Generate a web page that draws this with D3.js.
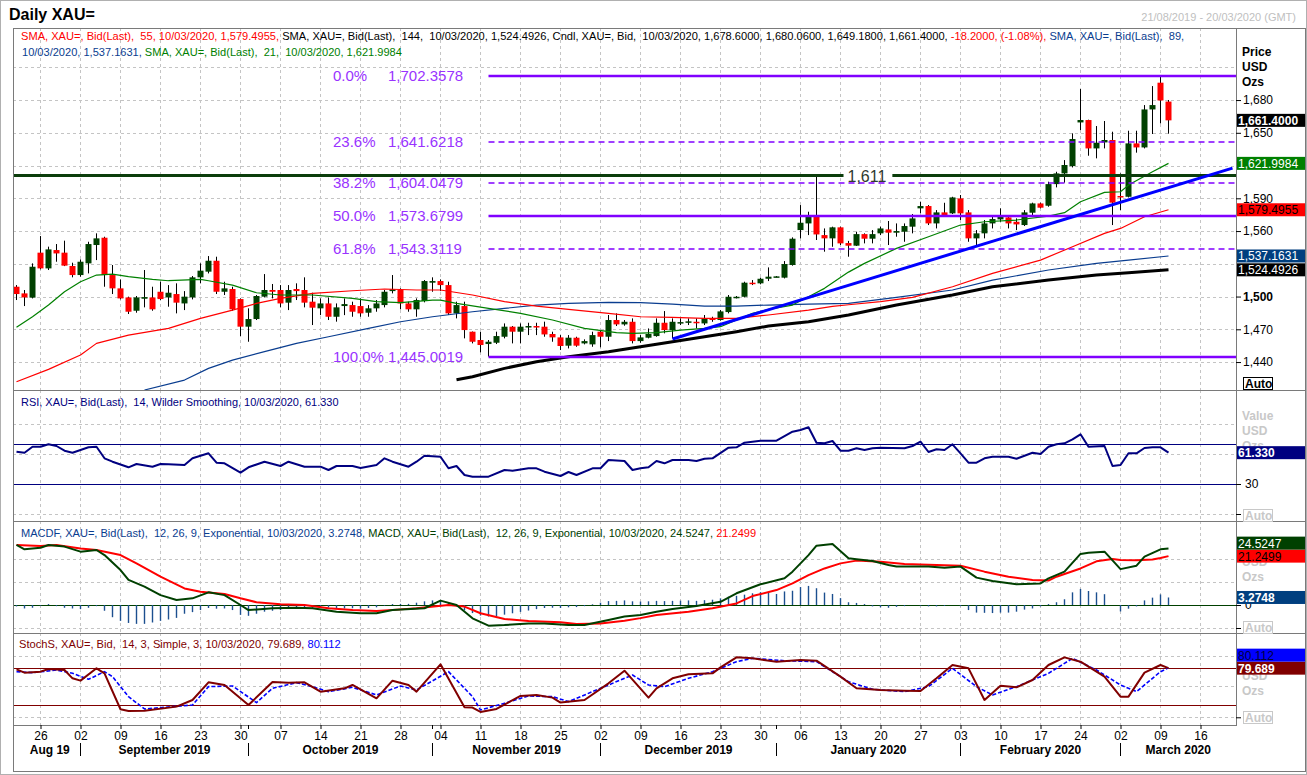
<!DOCTYPE html>
<html>
<head>
<meta charset="utf-8">
<script src="https://d3js.org/d3.v7.min.js"></script>
<style>
  body { margin: 0; background: #fff; }
  svg { display: block; font-family: "Liberation Sans", Arial, sans-serif; }
  text { white-space: pre; }
</style>
</head>
<body>
<svg id="chart" width="1307" height="775"></svg>
<script>
// ---- categories ----
const firstDay = "2019-08-21"
const lastDay = "2020-03-20"
const monthNames = ["Aug 19", "September 2019", "October 2019", "November 2019", "December 2019", "January 2020", "February 2020", "March 2020"]

// ---- daily candles, 21/08/2019 .. 10/03/2020 ----
const opens = [1509.0,1502.9,1499.0,1540.2,1525.8,1542.6,1540.2,1528.0,1519.7,1530.4,1547.2,1553.9,1519.7,1507.5,1499.2,1487.0,1498.0,1499.2,1504.4,1499.2,1502.3,1493.7,1499.2,1517.6,1522.8,1532.8,1504.4,1506.9,1497.7,1472.4,1479.4,1499.9,1506.0,1506.0,1494.4,1506.9,1506.0,1495.3,1489.2,1493.7,1481.5,1491.3,1492.2,1491.3,1485.2,1489.2,1492.2,1505.0,1506.0,1493.7,1488.3,1495.9,1512.7,1514.2,1510.5,1484.6,1491.3,1467.8,1460.2,1456.5,1457.7,1463.2,1472.4,1467.8,1471.8,1473.0,1472.4,1465.7,1462.6,1455.0,1462.3,1457.1,1456.2,1467.8,1463.2,1478.5,1474.5,1476.9,1459.2,1462.3,1463.8,1476.0,1469.3,1475.7,1476.3,1476.9,1475.4,1480.0,1478.5,1485.8,1499.2,1499.8,1512.7,1512.1,1516.3,1517.9,1517.3,1528.9,1560.9,1567.0,1574.0,1556.3,1553.3,1563.4,1549.0,1546.6,1557.2,1553.0,1557.9,1561.5,1558.5,1559.4,1564.0,1580.8,1582.9,1567.0,1577.1,1576.2,1589.9,1577.1,1553.3,1557.9,1567.0,1570.7,1572.5,1568.5,1565.5,1576.8,1585.3,1583.2,1603.0,1612.8,1619.5,1659.5,1661.7,1635.7,1641.2,1643.4,1592.1,1591.4,1640.3,1636.6,1671.4,1695.9,1678.6]
const highs = [1510.5,1506.0,1530.4,1555.4,1545.7,1548.1,1551.2,1531.0,1534.0,1550.2,1557.9,1554.8,1528.9,1515.7,1499.9,1500.5,1524.3,1509.0,1513.6,1510.5,1512.1,1505.0,1518.8,1530.4,1537.1,1536.5,1513.6,1509.0,1498.3,1489.2,1501.4,1520.6,1511.5,1510.5,1510.5,1512.1,1517.6,1503.5,1498.3,1499.2,1493.7,1498.3,1495.3,1498.3,1492.2,1496.8,1506.0,1519.7,1507.5,1495.3,1498.3,1515.1,1517.6,1515.7,1513.6,1495.3,1495.3,1468.0,1467.8,1460.2,1467.8,1475.4,1473.0,1475.4,1476.0,1476.0,1477.0,1467.8,1464.7,1464.7,1463.2,1460.8,1467.8,1469.3,1483.1,1484.6,1478.5,1480.0,1464.7,1470.8,1480.0,1486.7,1480.0,1480.0,1480.0,1480.0,1483.1,1481.5,1487.6,1501.4,1500.5,1513.6,1515.1,1517.3,1526.7,1518.8,1532.5,1554.2,1583.8,1577.7,1611.2,1562.4,1564.0,1564.0,1551.0,1559.4,1557.9,1560.9,1564.0,1569.2,1567.0,1567.0,1575.6,1586.9,1583.8,1579.2,1585.9,1591.4,1593.0,1579.2,1560.9,1570.1,1574.6,1580.8,1573.1,1571.6,1579.2,1586.0,1586.0,1605.2,1614.3,1625.0,1649.5,1690.1,1662.0,1656.2,1660.8,1651.0,1612.8,1651.9,1651.9,1675.4,1692.8,1702.36,1680.06]
const lows = [1496.8,1491.3,1498.3,1524.9,1524.3,1531.9,1527.9,1517.6,1518.2,1521.2,1533.4,1509.0,1502.3,1497.4,1484.0,1485.2,1490.1,1487.0,1496.8,1490.7,1484.6,1487.6,1497.4,1512.1,1521.2,1502.3,1501.4,1487.0,1463.8,1458.6,1478.5,1499.2,1498.3,1490.1,1487.6,1496.8,1490.1,1473.9,1483.0,1478.5,1477.0,1483.0,1481.5,1481.5,1481.5,1486.1,1490.1,1502.9,1488.3,1486.1,1481.5,1494.7,1504.4,1505.0,1483.1,1480.0,1461.7,1457.1,1448.9,1445.0,1456.5,1461.7,1457.1,1457.1,1464.7,1464.7,1463.2,1458.6,1451.0,1452.5,1454.0,1456.2,1454.0,1453.5,1459.2,1473.0,1473.3,1457.1,1457.7,1461.7,1463.2,1466.3,1461.7,1473.9,1473.9,1470.8,1473.9,1476.9,1477.9,1484.6,1498.3,1499.2,1510.5,1511.2,1514.2,1517.6,1516.6,1528.3,1553.3,1556.3,1551.8,1541.1,1545.6,1547.2,1536.5,1546.3,1548.7,1548.7,1556.3,1547.2,1554.8,1550.2,1557.9,1576.2,1565.5,1562.4,1573.1,1575.6,1570.1,1550.2,1547.2,1553.3,1562.4,1568.5,1562.4,1560.9,1564.6,1573.1,1580.8,1582.3,1600.0,1604.3,1618.3,1652.5,1629.0,1626.6,1635.7,1565.5,1579.2,1590.8,1631.8,1635.7,1648.9,1658.6,1649.18]
const closes = [1502.3,1499.2,1527.3,1525.8,1543.2,1539.5,1528.3,1519.7,1531.9,1548.1,1553.3,1519.7,1507.5,1498.3,1486.1,1499.2,1499.5,1488.3,1497.7,1503.5,1494.4,1499.9,1517.6,1523.7,1532.8,1504.4,1507.5,1488.3,1472.4,1479.4,1500.5,1506.0,1504.4,1493.7,1506.0,1505.0,1494.4,1489.8,1493.7,1481.5,1490.1,1493.1,1486.1,1484.6,1489.2,1493.7,1504.4,1506.6,1493.7,1488.3,1496.8,1514.2,1514.2,1510.5,1484.6,1492.2,1469.3,1458.6,1455.6,1458.6,1463.8,1472.4,1467.8,1472.4,1473.0,1471.8,1465.3,1462.6,1454.7,1462.3,1455.0,1459.2,1464.7,1463.2,1478.5,1474.5,1476.9,1459.2,1462.6,1465.7,1476.0,1469.3,1476.9,1476.6,1477.3,1476.0,1480.0,1478.5,1486.4,1499.8,1499.8,1512.7,1511.5,1516.3,1518.2,1518.5,1529.8,1553.0,1567.6,1574.0,1556.9,1553.3,1563.4,1548.7,1546.6,1557.2,1553.0,1557.2,1562.4,1558.5,1560.0,1564.6,1571.6,1582.9,1567.0,1577.1,1574.6,1590.8,1576.2,1553.3,1557.9,1567.0,1571.0,1573.1,1567.0,1566.1,1577.1,1585.3,1581.4,1603.0,1612.8,1620.5,1644.3,1661.7,1635.7,1640.9,1643.4,1586.0,1590.8,1640.3,1636.6,1671.4,1675.4,1679.6,1661.4]

// ---- moving averages ----
const sma21 = [["2019-08-21",1471.8],["2019-08-23",1481.5],["2019-08-27",1492.2],["2019-08-29",1504.4],["2019-09-02",1513.6],["2019-09-04",1519.7],["2019-09-06",1520.6],["2019-09-10",1518.2],["2019-09-13",1515.7],["2019-09-17",1514.5],["2019-09-23",1515.7],["2019-09-24",1514.5],["2019-09-27",1510.5],["2019-10-02",1503.5],["2019-10-07",1501.4],["2019-10-11",1501.4],["2019-10-18",1498.3],["2019-10-23",1495.3],["2019-10-28",1494.4],["2019-11-01",1496.8],["2019-11-04",1496.8],["2019-11-06",1493.7],["2019-11-12",1489.2],["2019-11-18",1484.6],["2019-11-22",1478.5],["2019-11-28",1470.8],["2019-12-04",1466.9],["2019-12-06",1466.3],["2019-12-11",1466.9],["2019-12-16",1469.3],["2019-12-19",1470.8],["2019-12-23",1472.4],["2019-12-25",1478.5],["2019-12-27",1484.6],["2019-12-31",1488.2],["2020-01-03",1492.2],["2020-01-07",1499.8],["2020-01-09",1507.5],["2020-01-14",1522.4],["2020-01-16",1530.4],["2020-01-22",1544.1],["2020-01-28",1554.8],["2020-02-03",1565.5],["2020-02-06",1568.5],["2020-02-12",1570.1],["2020-02-18",1573.7],["2020-02-20",1576.8],["2020-02-24",1586.9],["2020-02-27",1595.4],["2020-03-02",1596.0],["2020-03-03",1602.1],["2020-03-06",1614.4],["2020-03-10",1621.9984]]
const sma55 = [["2019-08-21",1422.0],["2019-08-27",1433.3],["2019-09-02",1446.4],["2019-09-04",1457.1],["2019-09-10",1464.7],["2019-09-17",1470.9],["2019-09-23",1480.0],["2019-09-27",1487.6],["2019-10-02",1493.7],["2019-10-07",1498.3],["2019-10-11",1502.9],["2019-10-18",1505.3],["2019-10-24",1506.9],["2019-10-30",1506.0],["2019-11-04",1506.0],["2019-11-08",1501.4],["2019-11-14",1495.3],["2019-11-20",1491.3],["2019-11-26",1488.2],["2019-12-03",1484.6],["2019-12-09",1481.5],["2019-12-13",1480.9],["2019-12-19",1480.0],["2019-12-25",1480.0],["2019-12-31",1483.1],["2020-01-07",1487.6],["2020-01-10",1491.0],["2020-01-14",1492.5],["2020-01-20",1495.3],["2020-01-24",1499.2],["2020-01-31",1509.0],["2020-02-07",1521.2],["2020-02-17",1533.4],["2020-02-21",1545.6],["2020-02-27",1557.9],["2020-03-02",1562.4],["2020-03-05",1573.1],["2020-03-10",1579.4955]]
const sma89 = [["2019-09-12",1414.4],["2019-09-19",1423.5],["2019-09-24",1434.2],["2019-09-27",1441.8],["2019-10-03",1449.5],["2019-10-09",1457.1],["2019-10-15",1463.2],["2019-10-22",1470.8],["2019-10-28",1476.9],["2019-11-01",1481.5],["2019-11-08",1486.1],["2019-11-14",1489.2],["2019-11-20",1492.2],["2019-11-26",1493.7],["2019-12-03",1494.7],["2019-12-09",1494.4],["2019-12-13",1493.1],["2019-12-19",1491.3],["2019-12-25",1491.3],["2019-12-31",1492.2],["2020-01-07",1493.1],["2020-01-14",1493.7],["2020-01-22",1499.2],["2020-01-31",1506.0],["2020-02-07",1515.1],["2020-02-18",1524.3],["2020-02-26",1530.4],["2020-03-03",1533.4],["2020-03-10",1537.1631]]
const sma144 = [["2019-11-06",1423.8],["2019-11-08",1426.6],["2019-11-14",1434.2],["2019-11-20",1440.3],["2019-11-26",1444.9],["2019-12-03",1449.5],["2019-12-09",1454.1],["2019-12-13",1458.6],["2019-12-19",1463.2],["2019-12-25",1467.8],["2019-12-31",1473.0],["2020-01-07",1476.9],["2020-01-14",1483.1],["2020-01-22",1492.2],["2020-01-31",1501.4],["2020-02-07",1509.0],["2020-02-18",1515.1],["2020-02-26",1519.7],["2020-03-03",1521.8],["2020-03-10",1524.4926]]

// ---- drawn studies ----
const fibPct = ["0.0%", "23.6%", "38.2%", "50.0%", "61.8%", "100.0%"]
const fibValues = [1702.3578, 1641.6218, 1604.0479, 1573.6799, 1543.3119, 1445.0019]
const fibStart = "2019-11-12"
const resistance = 1611
const resistanceLabelDay = "2020-01-14"
const trendPoints = [["2019-12-13", 1461.1], ["2020-03-20", 1617.7]]

// ---- RSI 14 ----
const rsi = [["2019-08-21",62.3],["2019-08-22",61.3],["2019-08-23",67.3],["2019-08-26",67.3],["2019-08-27",69.7],["2019-08-28",68],["2019-08-29",63.3],["2019-08-30",61.3],["2019-09-02",64],["2019-09-03",66.7],["2019-09-04",67.3],["2019-09-05",55.7],["2019-09-06",52.3],["2019-09-10",46.7],["2019-09-11",50],["2019-09-13",47.3],["2019-09-16",50],["2019-09-17",49.7],["2019-09-19",49],["2019-09-20",55.7],["2019-09-24",60.7],["2019-09-25",51.3],["2019-09-26",50.7],["2019-09-30",41.3],["2019-10-01",46.7],["2019-10-03",52.3],["2019-10-07",48],["2019-10-08",52.3],["2019-10-10",47.3],["2019-10-14",47.3],["2019-10-15",44],["2019-10-16",48],["2019-10-18",48],["2019-10-21",46],["2019-10-23",49],["2019-10-24",55.7],["2019-10-25",52.3],["2019-10-29",47.3],["2019-10-30",52.3],["2019-10-31",58.3],["2019-11-04",57.3],["2019-11-05",45.7],["2019-11-06",48],["2019-11-07",39],["2019-11-08",37.3],["2019-11-12",37.3],["2019-11-14",44],["2019-11-15",43.3],["2019-11-19",45.7],["2019-11-20",45.7],["2019-11-21",42.3],["2019-11-25",38],["2019-11-26",42],["2019-11-27",39],["2019-11-29",45.7],["2019-12-02",45.7],["2019-12-03",54],["2019-12-05",53],["2019-12-06",44],["2019-12-09",45.7],["2019-12-10",46.7],["2019-12-11",53],["2019-12-12",50.7],["2019-12-13",54],["2019-12-17",54],["2019-12-18",53],["2019-12-19",55.3],["2019-12-20",55.7],["2019-12-24",66.3],["2019-12-25",66.7],["2019-12-26",71.3],["2019-12-27",72.3],["2019-12-30",73.3],["2020-01-01",73.3],["2020-01-03",82.3],["2020-01-06",84],["2020-01-07",86.7],["2020-01-08",71.3],["2020-01-09",70.7],["2020-01-10",73],["2020-01-13",63.3],["2020-01-14",63.3],["2020-01-15",65.7],["2020-01-16",64],["2020-01-17",65.7],["2020-01-20",66.3],["2020-01-23",65.7],["2020-01-24",68],["2020-01-27",72.3],["2020-01-28",62],["2020-01-29",64.7],["2020-01-30",64],["2020-01-31",69.7],["2020-02-03",60.7],["2020-02-04",51.3],["2020-02-05",51.3],["2020-02-06",55.7],["2020-02-07",57.3],["2020-02-11",57.3],["2020-02-12",55.3],["2020-02-14",61.3],["2020-02-17",60],["2020-02-18",67.3],["2020-02-19",69.7],["2020-02-20",70.7],["2020-02-21",74.7],["2020-02-24",79.7],["2020-02-25",67.3],["2020-02-27",68],["2020-02-28",48],["2020-03-02",49],["2020-03-03",60.7],["2020-03-04",60.7],["2020-03-05",66],["2020-03-06",66.7],["2020-03-09",66.7],["2020-03-10",61.33]]
const rsiLevels = [70, 30]

// ---- MACD 12, 26, 9 ----
const macdLine = [["2019-08-21",26.1],["2019-08-22",24.2],["2019-08-26",24.9],["2019-08-27",26.1],["2019-08-29",25.4],["2019-09-02",23.2],["2019-09-04",23.9],["2019-09-05",21.7],["2019-09-09",15.2],["2019-09-10",10.9],["2019-09-12",8],["2019-09-16",4.3],["2019-09-18",2.2],["2019-09-20",2.9],["2019-09-24",5.5],["2019-09-26",4.3],["2019-09-30",0],["2019-10-01",-2.2],["2019-10-04",-1.4],["2019-10-09",-1.2],["2019-10-11",-1.4],["2019-10-16",-2.9],["2019-10-21",-3.6],["2019-10-23",-3.6],["2019-10-25",-2.2],["2019-10-31",-1.4],["2019-11-04",1.9],["2019-11-06",0],["2019-11-08",-5.8],["2019-11-12",-9],["2019-11-14",-8.7],["2019-11-19",-8],["2019-11-21",-8],["2019-11-26",-8.7],["2019-11-28",-8.7],["2019-12-03",-6.5],["2019-12-05",-5],["2019-12-09",-4.3],["2019-12-11",-2.9],["2019-12-13",-1.7],["2019-12-18",-0.4],["2019-12-23",1.4],["2019-12-25",5.1],["2019-12-30",9],["2020-01-02",11.6],["2020-01-03",14.5],["2020-01-07",21.7],["2020-01-08",25.8],["2020-01-10",26.5],["2020-01-14",20.3],["2020-01-15",19.9],["2020-01-17",19.1],["2020-01-21",17.4],["2020-01-22",16.7],["2020-01-28",16.7],["2020-01-30",16.2],["2020-02-03",16.7],["2020-02-05",11.9],["2020-02-07",10.4],["2020-02-12",9],["2020-02-17",9.4],["2020-02-18",11.6],["2020-02-20",14.5],["2020-02-24",22.2],["2020-02-25",22.7],["2020-02-27",23.2],["2020-03-02",15.6],["2020-03-04",17.1],["2020-03-05",21],["2020-03-09",24.2],["2020-03-10",24.5247]]
const signalLine = [["2019-08-21",26.1],["2019-08-26",25.7],["2019-08-28",26.1],["2019-09-02",24.6],["2019-09-04",23.9],["2019-09-09",21.7],["2019-09-11",18.1],["2019-09-16",12.3],["2019-09-19",7.2],["2019-09-23",5.8],["2019-09-26",4.8],["2019-09-30",2.9],["2019-10-02",1.2],["2019-10-07",0.3],["2019-10-10",0],["2019-10-15",-1.4],["2019-10-18",-2.2],["2019-10-23",-2.6],["2019-10-28",-1.9],["2019-10-30",-1.4],["2019-11-05",0],["2019-11-07",-0.7],["2019-11-11",-3.6],["2019-11-14",-6.1],["2019-11-19",-7],["2019-11-25",-7.5],["2019-11-27",-8.3],["2019-12-02",-8],["2019-12-05",-6.8],["2019-12-09",-5.7],["2019-12-11",-4.3],["2019-12-17",-2.9],["2019-12-20",-1.4],["2019-12-25",0.7],["2019-12-27",3.9],["2020-01-01",6.5],["2020-01-03",9.4],["2020-01-07",13],["2020-01-09",15.9],["2020-01-13",18.1],["2020-01-15",19.3],["2020-01-20",18.8],["2020-01-23",17.8],["2020-01-28",17.5],["2020-02-03",17.1],["2020-02-06",14.5],["2020-02-11",12.3],["2020-02-14",10.9],["2020-02-18",10.6],["2020-02-19",12.3],["2020-02-24",15.9],["2020-02-26",19.0],["2020-02-28",20.0],["2020-03-02",19.6],["2020-03-04",19.5],["2020-03-06",19.8],["2020-03-09",20.4],["2020-03-10",21.2499]]
const macdHist = [-0.6,-1.5,-1.2,-0.3,0.4,-0.5,-1.2,-1.5,-1.8,-1.2,-0.5,-2.5,-5.3,-6.9,-7.8,-8.2,-8.2,-7.6,-6.9,-6.3,-5.6,-3.8,-3.1,-2.2,-1.3,-1.6,-1.5,-2.2,-4.3,-4.7,-3.8,-2.9,-2.5,-2.2,-1.5,-1.3,-1.4,-1.2,-0.9,-1.1,-1.3,-1.5,-1.4,-1.6,-1.3,-1.0,-0.3,0.4,0.5,0.5,1.0,1.6,2.0,2.2,0.9,-0.6,-2.3,-3.5,-4.6,-5.0,-4.8,-4.2,-3.6,-3.0,-2.4,-1.8,-1.3,-1.2,-1.3,-1.0,-0.9,-0.5,0.3,1.0,1.7,1.8,2.0,1.6,1.5,1.6,1.8,1.7,1.8,1.9,2.0,1.8,2.1,2.3,2.9,3.6,4.0,4.5,5.1,5.6,5.6,4.8,5.9,6.2,7.8,8.3,7.3,5.4,4.8,3.0,1.2,0.9,0.4,-0.6,-1.0,-1.2,-0.8,-0.5,0,-0.3,-0.6,-0.6,-0.4,0,-0.5,-2.2,-3.3,-3.4,-3.5,-3.3,-3.3,-2.9,-2.0,-1.5,-0.6,0.4,1.2,2.5,5.5,7.0,6.1,5.5,4.7,0,-2.8,-1.6,-0.6,2.0,3.2,4.6,3.2748]

// ---- Slow stochastic 14, 3, 3 ----
const stochK = [["2019-08-21",77.8],["2019-08-22",72.4],["2019-08-26",74],["2019-08-27",78.3],["2019-08-29",76.7],["2019-08-30",63.2],["2019-09-02",59.4],["2019-09-04",79.4],["2019-09-05",71.3],["2019-09-09",13],["2019-09-10",10.3],["2019-09-12",10.8],["2019-09-18",17.3],["2019-09-20",28.1],["2019-09-24",56.7],["2019-09-26",52.4],["2019-10-01",20],["2019-10-04",57.3],["2019-10-08",56.2],["2019-10-10",56.7],["2019-10-14",41.6],["2019-10-17",47],["2019-10-18",52.4],["2019-10-23",30.8],["2019-10-25",59.4],["2019-10-29",52.4],["2019-10-30",41.6],["2019-11-04",85.9],["2019-11-07",16.2],["2019-11-08",15.7],["2019-11-11",8.7],["2019-11-13",13.5],["2019-11-18",34.6],["2019-11-20",36.2],["2019-11-22",31.9],["2019-11-25",23.8],["2019-11-28",28.1],["2019-12-03",55.1],["2019-12-05",75.6],["2019-12-10",31.9],["2019-12-11",47],["2019-12-13",63.2],["2019-12-17",69.7],["2019-12-20",71.3],["2019-12-23",81],["2019-12-25",97.2],["2019-12-27",95.6],["2020-01-01",90.2],["2020-01-06",92.9],["2020-01-08",91.8],["2020-01-13",65.9],["2020-01-15",47],["2020-01-20",44.3],["2020-01-23",43.2],["2020-01-27",42.7],["2020-01-29",63.2],["2020-01-31",84.8],["2020-02-04",79.4],["2020-02-06",28.1],["2020-02-10",51.3],["2020-02-12",48.6],["2020-02-14",60.5],["2020-02-18",84.8],["2020-02-20",97.2],["2020-02-24",90.2],["2020-02-27",65.9],["2020-03-02",33.5],["2020-03-03",33.5],["2020-03-05",72.4],["2020-03-09",84.8],["2020-03-10",79.689]]
const stochD = [["2019-08-21",74],["2019-08-23",72.4],["2019-08-28",76.7],["2019-08-30",71.3],["2019-09-03",61.6],["2019-09-05",74],["2019-09-06",65.9],["2019-09-10",33.5],["2019-09-12",13.5],["2019-09-20",20],["2019-09-24",49.7],["2019-09-27",50.8],["2019-10-02",23.8],["2019-10-04",47],["2019-10-09",56.2],["2019-10-11",49.7],["2019-10-15",41.6],["2019-10-18",48.6],["2019-10-23",36.2],["2019-10-28",50.8],["2019-10-30",44.3],["2019-11-05",74],["2019-11-08",33.5],["2019-11-11",11.9],["2019-11-14",22.7],["2019-11-19",34.6],["2019-11-22",33.5],["2019-11-26",25.4],["2019-12-02",47],["2019-12-06",68.6],["2019-12-10",52.4],["2019-12-12",49.7],["2019-12-17",63.2],["2019-12-20",74],["2019-12-25",90.2],["2019-12-27",95.6],["2020-01-02",91.8],["2020-01-08",90.2],["2020-01-14",57.8],["2020-01-17",45.4],["2020-01-23",41.6],["2020-01-28",49.7],["2020-01-31",79.4],["2020-02-05",49.7],["2020-02-07",36.2],["2020-02-12",49.7],["2020-02-18",71.3],["2020-02-21",95.6],["2020-02-26",76.7],["2020-03-02",52.4],["2020-03-04",41.6],["2020-03-09",74],["2020-03-10",80.112]]
const stochLevels = [80, 20]

// ---- layout ----
const W = 1307, H = 775
const left = 13, right = 1237, axisX = 1236, outerRight = 1305
const panels = {
  price: {top: 28, bottom: 390},
  rsi: {top: 390, bottom: 521},
  macd: {top: 521, bottom: 633},
  stoch: {top: 633, bottom: 725}
}
const gridColor = "#c4c4c4"
const frameColor = "#7a7a7a"
const purple = "#8000ff"
const purpleText = "#9933ff"

const dayKeys = d3.utcDays(new Date(firstDay), d3.utcDay.offset(new Date(lastDay), 1))
  .filter(d => d.getUTCDay() !== 0 && d.getUTCDay() !== 6)
  .map(d3.utcFormat("%Y-%m-%d"))
const mondays = dayKeys.filter(k => new Date(k).getUTCDay() === 1)
const monthStarts = dayKeys.filter((k, i) => i > 0 && k.slice(5, 7) !== dayKeys[i - 1].slice(5, 7))

const x = d3.scaleBand().domain(dayKeys).range([left, right])
const cx = k => x(k) + 3.5

const yPrice = d3.scaleLinear().domain([1414.4, 1746]).range([panels.price.bottom, panels.price.top])
const yRsi = d3.scaleLinear().domain([-7, 124]).range([panels.rsi.bottom, panels.rsi.top])
const yMacd = d3.scaleLinear().domain([-12.17, 36.52]).range([panels.macd.bottom, panels.macd.top])
const yStoch = d3.scaleLinear().domain([-12.5, 136.7]).range([panels.stoch.bottom, panels.stoch.top])

const svg = d3.select("#chart")
svg.append("rect").attr("width", W).attr("height", H).attr("fill", "#fff")

const defs = svg.append("defs")
Object.entries(panels).forEach(([name, p]) => {
  defs.append("clipPath").attr("id", "clip-" + name)
    .append("rect").attr("x", left).attr("y", p.top).attr("width", axisX - left).attr("height", p.bottom - p.top)
})

function panelGroup (name) {
  return svg.append("g").attr("clip-path", `url(#clip-${name})`)
}

// ---- grid ----
const grid = svg.append("g").attr("stroke", gridColor).attr("stroke-dasharray", "3,3").attr("stroke-width", 1)
Object.values(panels).forEach(p => {
  grid.selectAll(null).data(mondays).join("line")
    .attr("x1", cx).attr("x2", cx).attr("y1", p.top).attr("y2", p.bottom)
})
function hGrid (scale, values) {
  grid.selectAll(null).data(values).join("line")
    .attr("x1", left).attr("x2", axisX)
    .attr("y1", d => Math.round(scale(d)) + 0.5).attr("y2", d => Math.round(scale(d)) + 0.5)
}
hGrid(yPrice, d3.range(1440, 1711, 30))
hGrid(yRsi, [0, 60, 90])
hGrid(yMacd, [-10, 10, 20])
hGrid(yStoch, [0, 50, 100])

// ---- header texts ----
// one text per colour run, font size fitted so the whole line spans the wanted width
function richText (g, parts, xPos, yPos, size, width) {
  const runs = parts.map(([s, c]) => g.append("text").attr("y", yPos).attr("font-size", size).attr("fill", c).text(s))
  const natural = d3.sum(runs, r => r.node().getComputedTextLength())
  const k = width ? width / natural : 1
  let cur = xPos
  runs.forEach(r => {
    r.attr("font-size", size * k).attr("x", cur)
    cur += r.node().getComputedTextLength()
  })
  return runs
}
const navyText = "#0a3d8f"
svg.append("text").attr("x", 9).attr("y", 20).attr("font-size", 16).attr("font-weight", "bold").text("Daily XAU=")
svg.append("text").attr("x", 1296).attr("y", 21).attr("font-size", 11).attr("fill", "#c0c0c0")
  .attr("text-anchor", "end").text("21/08/2019 - 20/03/2020 (GMT)")

richText(svg, [
  ["SMA, XAU=, Bid(Last),  55, 10/03/2020, 1,579.4955, ", "#ff0000"],
  ["SMA, XAU=, Bid(Last),  144,  10/03/2020, 1,524.4926, Cndl, XAU=, Bid,  10/03/2020, 1,678.6000, 1,680.0600, 1,649.1800, 1,661.4000, ", "#000"],
  ["-18.2000, (-1.08%), ", "#ff0000"],
  ["SMA, XAU=, Bid(Last),  89,", navyText]
], 21, 40, 12, 1164)
richText(svg, [
  ["10/03/2020, 1,537.1631, ", navyText],
  ["SMA, XAU=, Bid(Last),  21,  10/03/2020, 1,621.9984", "#008000"]
], 22, 56, 12, 380)

// ---- price panel ----
const priceG = panelGroup("price")
const candles = opens.map((o, i) => ({d: dayKeys[i], o, h: highs[i], l: lows[i], c: closes[i]}))
priceG.append("g").selectAll("line").data(candles).join("line")
  .attr("x1", d => cx(d.d)).attr("x2", d => cx(d.d))
  .attr("y1", d => yPrice(d.h)).attr("y2", d => yPrice(d.l))
  .attr("stroke", "#000").attr("stroke-width", 1)
priceG.append("g").selectAll("rect").data(candles).join("rect")
  .attr("x", d => cx(d.d) - 3).attr("width", 6)
  .attr("y", d => yPrice(Math.max(d.o, d.c)))
  .attr("height", d => Math.max(1.5, Math.abs(yPrice(d.o) - yPrice(d.c))))
  .attr("fill", d => d.c >= d.o ? "#004000" : "#ff0000")

function seriesLine (g, data, scale, color, width, dash) {
  const line = d3.line().x(d => cx(d[0])).y(d => scale(d[1]))
  return g.append("path").datum(data).attr("d", line)
    .attr("fill", "none").attr("stroke", color).attr("stroke-width", width)
    .attr("stroke-linejoin", "round").attr("stroke-dasharray", dash || null)
}
seriesLine(priceG, sma144, yPrice, "#000", 3)
seriesLine(priceG, sma89, yPrice, "#0a3d8f", 1.2)
seriesLine(priceG, sma55, yPrice, "#ff0000", 1.2)
seriesLine(priceG, sma21, yPrice, "#008000", 1.2)

// fibonacci retracement
const fibX = cx(fibStart)
fibValues.forEach((v, i) => {
  const y = Math.round(yPrice(v))
  const solid = [0, 3, 5].includes(i)
  priceG.append("line").attr("x1", fibX).attr("x2", axisX).attr("y1", y).attr("y2", y)
    .attr("stroke", purple).attr("stroke-width", solid ? 2.5 : 1.3)
    .attr("stroke-dasharray", solid ? null : "6,4")
  const pct = priceG.append("text").attr("x", 333).attr("y", y + 5).attr("font-size", 15)
    .attr("fill", purpleText).text(fibPct[i])
  const pw = pct.node().getComputedTextLength()
  priceG.append("text").attr("x", Math.max(388, 333 + pw + 4)).attr("y", y + 5).attr("font-size", 15)
    .attr("fill", purpleText).text(d3.format(",.4f")(v))
})

// 1,611 resistance
const resY = Math.round(yPrice(resistance)) + 0.5
const resLabel = priceG.append("text").attr("x", cx(resistanceLabelDay) - 1).attr("y", resY + 6)
  .attr("font-size", 16).attr("fill", "#2f3a2f").text(d3.format(",")(resistance))
const resW = resLabel.node().getComputedTextLength()
const resX0 = cx(resistanceLabelDay) - 5
priceG.append("line").attr("x1", left).attr("x2", resX0).attr("y1", resY).attr("y2", resY)
  .attr("stroke", "#0b3d0b").attr("stroke-width", 3)
priceG.append("line").attr("x1", resX0 + resW + 10).attr("x2", axisX).attr("y1", resY).attr("y2", resY)
  .attr("stroke", "#0b3d0b").attr("stroke-width", 3)

// trend line
seriesLine(priceG, trendPoints, yPrice, "#0000ff", 3)

// ---- RSI panel ----
const rsiG = panelGroup("rsi")
rsiLevels.forEach(l => {
  const y = Math.round(yRsi(l)) + 0.5
  rsiG.append("line").attr("x1", left).attr("x2", axisX).attr("y1", y).attr("y2", y).attr("stroke", "#000080")
})
seriesLine(rsiG, rsi, yRsi, "#000080", 2)
richText(svg, [["RSI, XAU=, Bid(Last),  14, Wilder Smoothing, 10/03/2020, 61.330", "#000080"]], 21, 406, 12, 318)

// ---- MACD panel ----
const macdG = panelGroup("macd")
const zeroY = Math.round(yMacd(0)) + 0.5
macdG.append("line").attr("x1", left).attr("x2", axisX).attr("y1", zeroY).attr("y2", zeroY).attr("stroke", "#004000")
macdG.append("g").selectAll("line").data(macdHist).join("line")
  .attr("x1", (d, i) => cx(dayKeys[i])).attr("x2", (d, i) => cx(dayKeys[i]))
  .attr("y1", yMacd(0)).attr("y2", d => yMacd(d))
  .attr("stroke", "#1c4f8f").attr("stroke-width", 1.4)
seriesLine(macdG, signalLine, yMacd, "#ff0000", 2)
seriesLine(macdG, macdLine, yMacd, "#004000", 2)
richText(svg, [
  ["MACDF, XAU=, Bid(Last),  12, 26, 9, Exponential, 10/03/2020, 3.2748, ", navyText],
  ["MACD, XAU=, Bid(Last),  12, 26, 9, Exponential, 10/03/2020, 24.5247, ", "#004000"],
  ["21.2499", "#ff0000"]
], 21, 537, 12, 736)

// ---- Stochastic panel ----
const stG = panelGroup("stoch")
stochLevels.forEach(l => {
  const y = Math.round(yStoch(l)) + 0.5
  stG.append("line").attr("x1", left).attr("x2", axisX).attr("y1", y).attr("y2", y).attr("stroke", "#800000")
})
seriesLine(stG, stochD, yStoch, "#0000ff", 1.6, "4,2")
seriesLine(stG, stochK, yStoch, "#800000", 2)
richText(svg, [
  ["StochS, XAU=, Bid,  14, 3, Simple, 3, 10/03/2020, 79.689, ", "#800000"],
  ["80.112", "#0000ff"]
], 19, 648, 11, 322)

// ---- frame ----
const frame = svg.append("g").attr("stroke", frameColor).attr("stroke-width", 1).attr("fill", "none")
frame.append("rect").attr("x", 0.5).attr("y", 0.5).attr("width", W - 1).attr("height", H - 1).attr("stroke", "#b0b0b0")
frame.append("rect").attr("x", left + 0.5).attr("y", 28.5).attr("width", outerRight - left).attr("height", 743)
;[390, 521, 633].forEach(y => frame.append("line").attr("x1", left).attr("x2", outerRight + 1).attr("y1", y + 0.5).attr("y2", y + 0.5))
frame.append("line").attr("x1", left).attr("x2", axisX + 1).attr("y1", 725.5).attr("y2", 725.5)
frame.append("line").attr("x1", axisX + 0.5).attr("x2", axisX + 0.5).attr("y1", 28).attr("y2", 726)

// ---- right axes ----
function valueBoxes (items) {
  items.forEach(d => { d.y = d.scale(d.v) })
  items.sort((a, b) => b.y - a.y)
  for (let i = 1; i < items.length; i++) {
    if (items[i - 1].y - items[i].y < 13) items[i].y = items[i - 1].y - 13
  }
  const g = svg.append("g")
  items.forEach(d => {
    g.append("rect").attr("x", axisX + 1).attr("y", d.y - 6.5).attr("width", outerRight - axisX - 1).attr("height", 13).attr("fill", d.bg)
    g.append("text").attr("x", axisX + 2).attr("y", d.y + 4.5).attr("font-size", 12)
      .attr("font-weight", d.bold ? "bold" : "normal").attr("fill", d.fg).text(d.label)
  })
  return items
}

function unitLabels (names, y0, color) {
  names.forEach((n, i) => {
    if (n) {
      svg.append("text").attr("x", 1242).attr("y", y0 + i * 15)
        .attr("font-size", 12).attr("font-weight", "bold").attr("fill", color).text(n)
    }
  })
}
function autoButton (y, color) {
  svg.append("rect").attr("x", 1243.5).attr("y", y + 0.5).attr("width", 29).attr("height", 12)
    .attr("fill", "#fff").attr("stroke", color)
  svg.append("text").attr("x", 1245).attr("y", y + 11).attr("font-size", 12).attr("font-weight", "bold")
    .attr("fill", color).text("Auto")
}

const priceBoxes = [
  {v: 1661.4, label: "1,661.4000", bg: "#000", fg: "#fff", bold: true, scale: yPrice},
  {v: 1621.9984, label: "1,621.9984", bg: "#008000", fg: "#fff", scale: yPrice},
  {v: 1579.4955, label: "1,579.4955", bg: "#ff0000", fg: "#000", scale: yPrice},
  {v: 1537.1631, label: "1,537.1631", bg: "#003f7f", fg: "#fff", scale: yPrice},
  {v: 1524.4926, label: "1,524.4926", bg: "#000", fg: "#fff", scale: yPrice}
]
const boxYs = priceBoxes.map(d => d.scale(d.v))
const priceTicks = d3.range(1440, 1681, 30).filter(t => boxYs.every(y => Math.abs(yPrice(t) - y) > 8))

unitLabels(["Price", "USD", "Ozs"], 56, "#000")
const pAxis = svg.append("g").attr("transform", `translate(${axisX},0)`)
  .call(d3.axisRight(yPrice).tickValues(priceTicks).tickSize(5).tickPadding(2).tickFormat(d3.format(",")))
pAxis.select(".domain").remove()
pAxis.selectAll("text").attr("font-size", 12).attr("font-family", null).attr("fill", "#000")
  .attr("font-weight", d => d === 1500 ? "bold" : "normal")
pAxis.selectAll("line").attr("stroke", "#000")
autoButton(377, "#000")

unitLabels(["Value", "USD", "Ozs"], 420, "#c8c8c8")
const rAxis = svg.append("g").attr("transform", `translate(${axisX},0)`)
  .call(d3.axisRight(yRsi).tickValues([0, 30]).tickSize(5).tickPadding(4).tickFormat(d => d === 30 ? "30" : ""))
rAxis.select(".domain").remove()
rAxis.selectAll("text").attr("font-size", 12).attr("font-family", null)
autoButton(509, "#c8c8c8")

unitLabels(["", "USD", "Ozs"], 551, "#c8c8c8")
const mAxis = svg.append("g").attr("transform", `translate(${axisX},0)`)
  .call(d3.axisRight(yMacd).tickValues([-10, 0]).tickSize(5).tickPadding(4).tickFormat(d => d === 0 ? "0" : ""))
mAxis.select(".domain").remove()
mAxis.selectAll("text").attr("font-size", 12).attr("font-family", null)
autoButton(621, "#c8c8c8")

unitLabels(["", "USD", "Ozs"], 665, "#c8c8c8")
const sAxis = svg.append("g").attr("transform", `translate(${axisX},0)`)
  .call(d3.axisRight(yStoch).tickValues([0]).tickSize(5).tickFormat(""))
sAxis.select(".domain").remove()
autoButton(711, "#c8c8c8")

valueBoxes(priceBoxes)
valueBoxes([{v: 61.33, label: "61.330", bg: "#000080", fg: "#fff", bold: true, scale: yRsi}])
valueBoxes([
  {v: 24.5247, label: "24.5247", bg: "#004000", fg: "#fff", scale: yMacd},
  {v: 21.2499, label: "21.2499", bg: "#ff0000", fg: "#000", scale: yMacd},
  {v: 3.2748, label: "3.2748", bg: "#003f7f", fg: "#fff", bold: true, scale: yMacd}
])
valueBoxes([
  {v: 80.112, label: "80.112", bg: "#0000ff", fg: "#000040", scale: yStoch},
  {v: 79.689, label: "79.689", bg: "#800000", fg: "#fff", bold: true, scale: yStoch}
])

// ---- time axis ----
const xAxis = svg.append("g").attr("transform", "translate(0,725)")
  .call(d3.axisBottom(x).tickValues(mondays).tickSize(4).tickPadding(2).tickFormat(k => k.slice(8)))
xAxis.select(".domain").remove()
xAxis.selectAll("text").attr("font-size", 12).attr("font-family", null).attr("fill", "#000")
xAxis.selectAll("line").attr("stroke", "#000")
svg.append("g").selectAll("line").data(monthStarts.filter(k => !mondays.includes(k))).join("line")
  .attr("x1", cx).attr("x2", cx).attr("y1", 725).attr("y2", 729).attr("stroke", "#000")

const sepX = monthStarts.map(cx)
svg.append("g").selectAll("line").data(sepX).join("line")
  .attr("x1", d => d).attr("x2", d => d).attr("y1", 743).attr("y2", 756).attr("stroke", "#000")
const bounds = [left].concat(sepX, [axisX])
svg.append("g").selectAll("text").data(monthNames).join("text")
  .attr("x", (d, i) => (bounds[i] + bounds[i + 1]) / 2 + (i === 0 ? 3 : 0))
  .attr("y", 754).attr("text-anchor", "middle").attr("font-size", 12).attr("font-weight", "bold")
  .text(d => d)
</script>
</body>
</html>
